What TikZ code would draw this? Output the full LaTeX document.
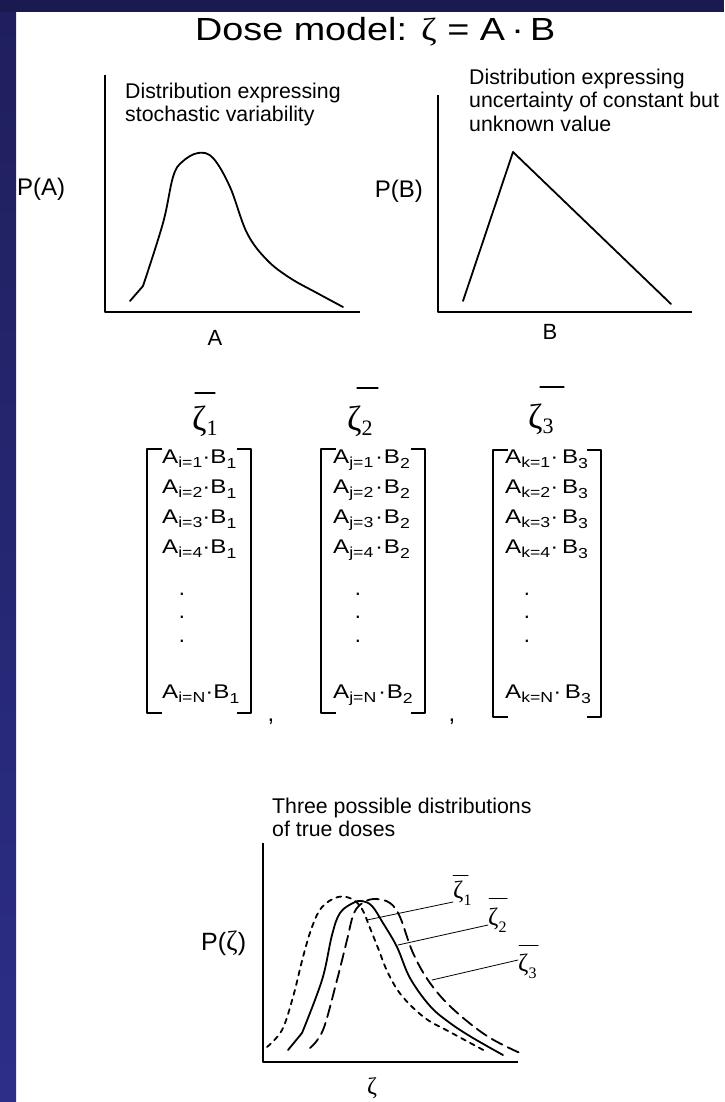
\documentclass[tikz,border=0pt]{standalone}
\usepackage{fontspec}
\usepackage{graphicx}
\setmainfont{Liberation Sans}
\newfontfamily\serif{Liberation Serif}
\definecolor{navytop}{RGB}{27,26,80}
\definecolor{navyA}{RGB}{31,31,92}
\definecolor{navyB}{RGB}{44,46,136}
% #1 index letter, #2 index value, #3 B subscript, #4 space before dot, #5 space before B
\newcommand\mrow[5]{\scalebox{1.22}[1]{A\raisebox{-4pt}{\fontsize{14.5}{14}\selectfont #1=#2}\kern#4·\kern#5B\raisebox{-5pt}{\fontsize{14.5}{14}\selectfont #3}}}
\newcommand\bigz[1]{{\serif\fontsize{35}{35}\selectfont ζ\raisebox{-5pt}{\fontsize{22}{22}\selectfont #1}}}
\newcommand\smallz[1]{{\serif\fontsize{25}{25}\selectfont ζ\raisebox{-7pt}{\fontsize{16}{16}\selectfont #1}}}
\begin{document}
\begin{tikzpicture}[x=1pt,y=-1pt,line cap=round,line join=round,
  axis/.style={line width=2pt,line cap=butt},
  curve/.style={line width=1.8pt},
  brk/.style={line width=2pt,line cap=butt},
  thinl/.style={line width=0.8pt},
  txt/.style={inner sep=0pt,anchor=base west,font=\fontsize{21.3}{23}\selectfont},
  lab/.style={inner sep=0pt,anchor=base,font=\fontsize{22}{24}\selectfont},
  rowt/.style={inner sep=0pt,anchor=base west,font=\fontsize{19.8}{20}\selectfont},
  dotn/.style={inner sep=0pt,anchor=center,font=\fontsize{22}{22}\selectfont},
  zl/.style={inner sep=0pt,anchor=base west},
  shortdash/.style={dash pattern=on 5pt off 5pt},
  longdash/.style={dash pattern=on 12pt off 6pt}]
\useasboundingbox (0,0) rectangle (724,1102);
\fill[white] (0,0) rectangle (724,1102);
\shade[top color=navyA,bottom color=navyB] (0,0) rectangle (16,1102);
\fill[navytop] (0,0) rectangle (724,12);

% title
\node[inner sep=0pt,anchor=base west] (title) at (195,41)
  {\fontsize{32}{38}\selectfont\scalebox{1.18}[1]{Dose model: {\serif ζ} = A\,·\,B}};

% chart A
\draw[axis] (105,75) -- (105,312) -- (360,312);
\draw[curve] (130,301) -- (143,286);
\draw[curve] plot[smooth,tension=0.6] coordinates {(143,286) (163,223) (173,177) (182,162) (198,153) (213,158) (230,187) (247,233) (267,260) (290,278) (317,293) (343,307)};
\node[txt] (tA1) at (125,99) {Distribution expressing};
\node[txt] (tA2) at (125,122) {stochastic variability};
\node[inner sep=0pt,anchor=base west,font=\fontsize{24}{26}\selectfont] (PA) at (17,195) {P(A)};
\node[lab] (A) at (215,345) {A};

% chart B
\draw[axis] (438,95) -- (438,312) -- (692,312);
\draw[curve] (463,301) -- (513,152) -- (671,304);
\node[txt] (tB1) at (469,85) {Distribution expressing};
\node[txt] (tB2) at (469,108) {uncertainty of constant but};
\node[txt] (tB3) at (469,132) {unknown value};
\node[inner sep=0pt,anchor=base east,font=\fontsize{24}{26}\selectfont] (PB) at (423,197) {P(B)};
\node[lab] (B) at (550,339) {B};

% zeta bars over matrices
\node[zl] (z1) at (192,430) {\bigz{1}};
\draw[line width=1.3pt] (195,393) -- (215,393);
\node[zl] (z2) at (347,430) {\bigz{2}};
\draw[line width=1.3pt] (357,388) -- (378,388);
\node[zl] (z3) at (528,428) {\bigz{3}};
\draw[line width=1.3pt] (540,387) -- (564,387);

% matrices
\foreach \c/\x/\l/\b/\sa/\sb in {1/162/i/1/0pt/0pt,2/333/j/2/1.5pt/0.5pt,3/505/k/3/0pt/3pt}{
  \foreach \r/\y in {1/463,2/493,3/523,4/553}{
    \node[rowt] (m\c r\r) at (\x,\y) {\mrow{\l}{\r}{\b}{\sa}{\sb}};
  }
  \node[rowt] (m\c rN) at (\x,698) {\mrow{\l}{N}{\b}{\sa}{\sb}};
}
\foreach \c/\x in {1/182,2/358,3/527}{
  \foreach \d/\y in {1/594,2/617,3/641}{
    \node[dotn] (d\c\d) at (\x,\y) {.};
  }
}
\draw[brk] (162,449) -- (147,449) -- (147,713) -- (162,713);
\draw[brk] (237,449) -- (251,449) -- (251,713) -- (237,713);
\draw[brk] (336,449) -- (321,449) -- (321,713) -- (336,713);
\draw[brk] (411,449) -- (425,449) -- (425,713) -- (411,713);
\draw[brk] (508,450) -- (493,450) -- (493,717) -- (508,717);
\draw[brk] (587,450) -- (601,450) -- (601,717) -- (587,717);
\node[inner sep=0pt,anchor=center,font=\fontsize{24}{24}\selectfont] (cm1) at (271,722) {,};
\node[inner sep=0pt,anchor=center,font=\fontsize{24}{24}\selectfont] (cm2) at (452,722) {,};

% bottom chart
\node[txt] (tC1) at (272,813) {Three possible distributions};
\node[txt] (tC2) at (272,836) {of true doses};
\draw[axis] (263,843) -- (263,1062) -- (518,1062);
\node[inner sep=0pt,anchor=base west,font=\fontsize{25}{26}\selectfont] (Pz) at (201,950) {P({\serif\fontsize{28}{28}\selectfont ζ})};
\node[inner sep=0pt,anchor=base,font=\serif\fontsize{24}{24}\selectfont] (zx) at (372,1094) {ζ};

\draw[curve,shortdash] plot[smooth,tension=0.6] coordinates {(267,1047) (282,1030) (293,997) (303,957) (312,927) (322,907) (338,897) (352,899) (362,909) (370,928) (378,948) (388,973) (402,996) (425,1018) (450,1032) (487,1052)};
\draw[curve] (288,1050) -- (302,1033);
\draw[curve] plot[smooth,tension=0.6] coordinates {(302,1033) (322,980) (332,935) (340,913) (353,903) (362,901) (372,906) (383,923) (397,947) (410,978) (430,1006) (450,1023) (473,1038) (503,1055)};
\draw[curve,longdash] plot[smooth,tension=0.6] coordinates {(310,1048) (323,1030) (337,980) (347,940) (354,913) (364,902) (376,899) (390,903) (400,917) (413,953) (430,983) (453,1009) (487,1036) (520,1053)};

\coordinate (p1) at (367,920);
\coordinate (p2) at (398,945);
\coordinate (p3) at (432,980);
\node[zl] (s1) at (453,898) {\smallz{1}};
\node[zl] (s2) at (488,925) {\smallz{2}};
\node[zl] (s3) at (518,971) {\smallz{3}};
\draw[thinl] (p1) -- (s1.west |- 0,902);
\draw[thinl] (p2) -- (s2.west |- 0,925);
\draw[thinl] (p3) -- (s3.west |- 0,960);
\draw[line width=1pt] (453,875) -- (468,875);
\draw[line width=1pt] (489,898) -- (507,898);
\draw[line width=1pt] (519,945) -- (538,945);
\end{tikzpicture}
\end{document}
